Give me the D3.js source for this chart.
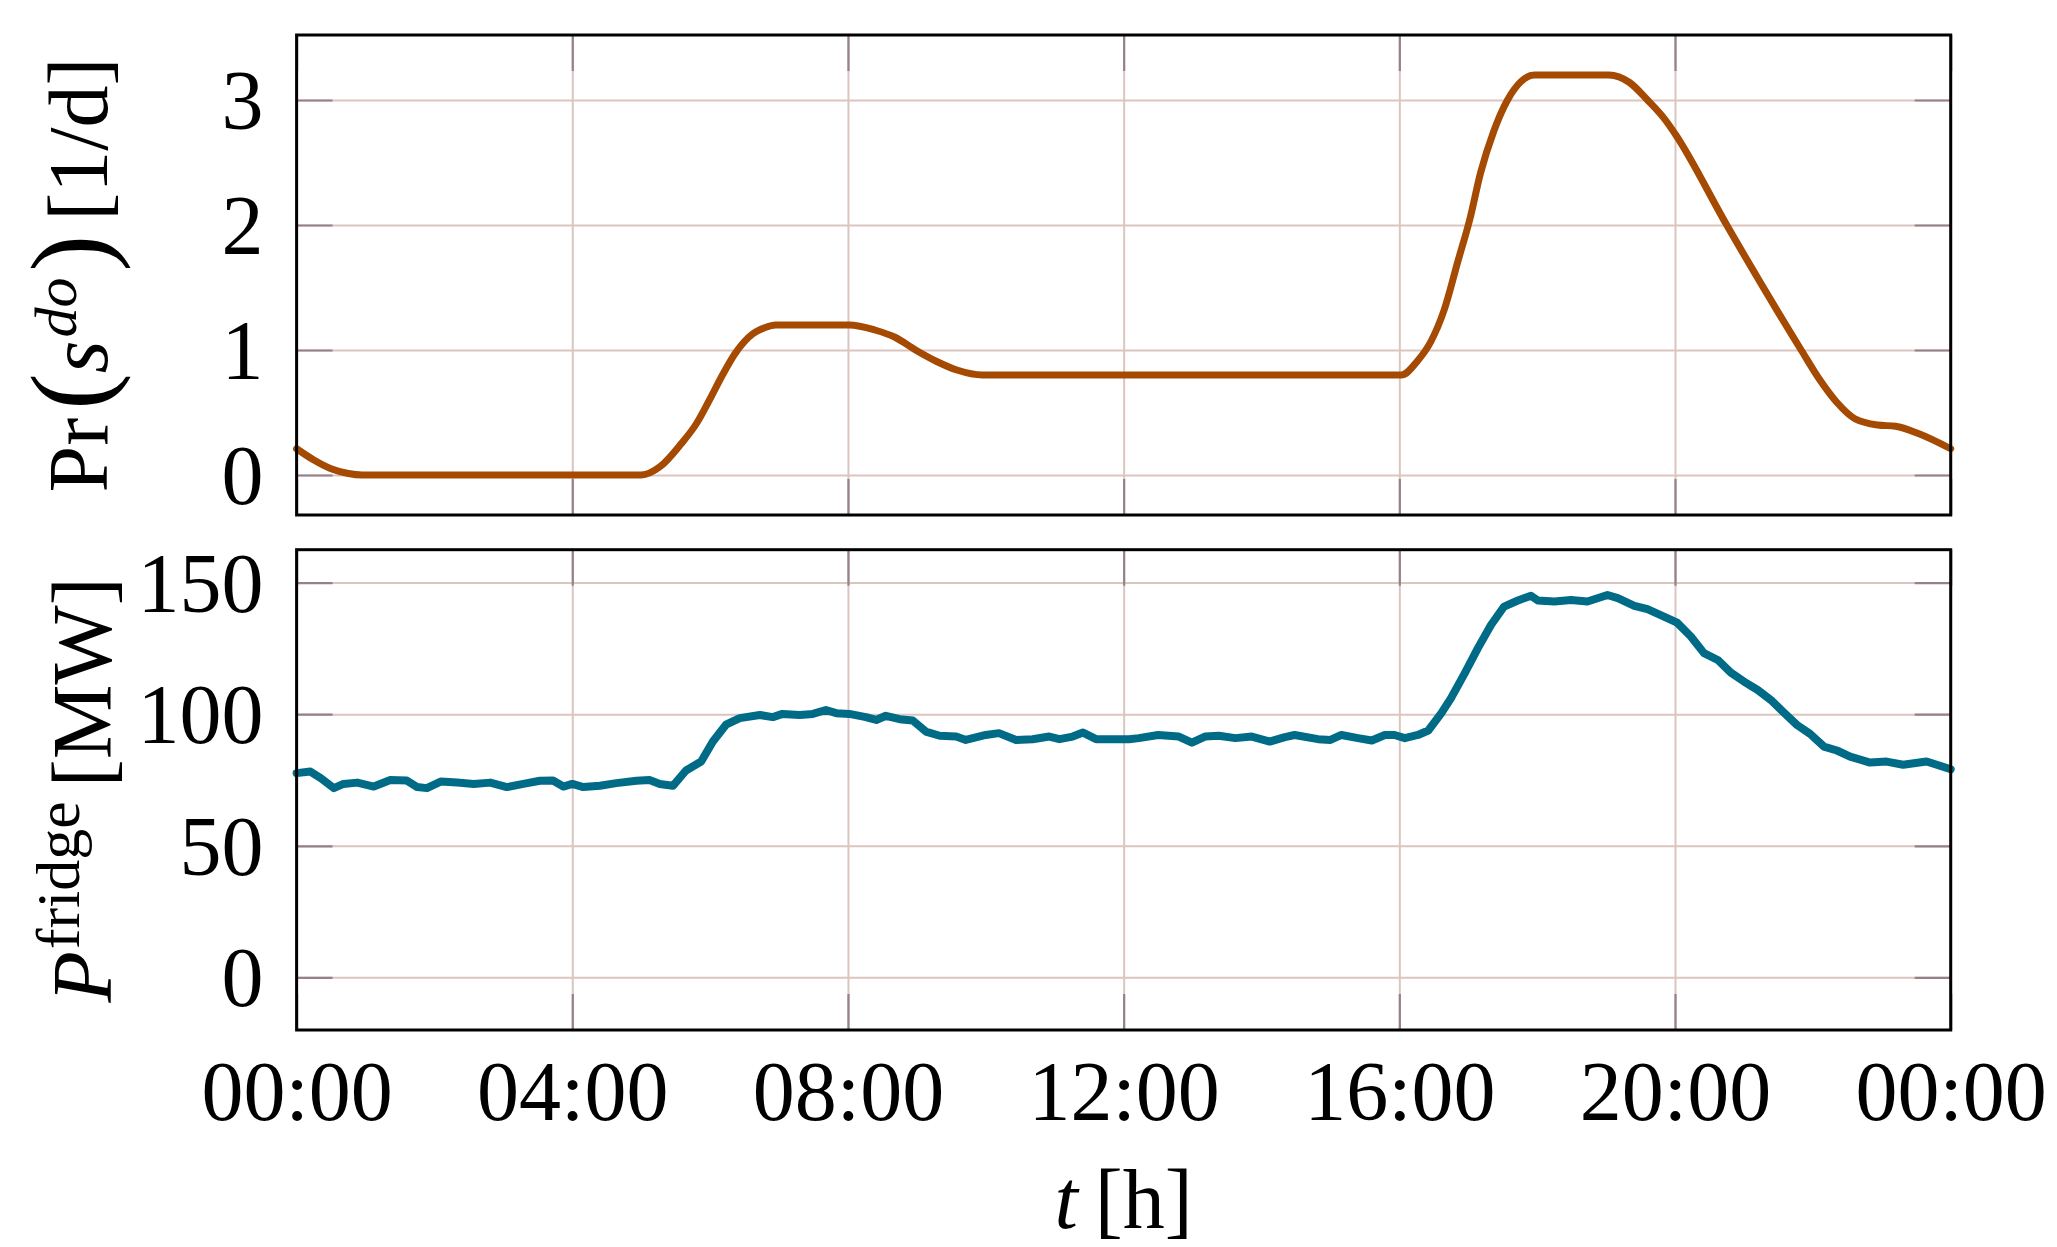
<!DOCTYPE html>
<html>
<head>
<meta charset="utf-8">
<script src="https://cdn.jsdelivr.net/npm/d3@7"></script>
<style>
  html, body { margin: 0; padding: 0; background: #ffffff; }
  svg { display: block; }
  text { font-family: "Liberation Serif", "DejaVu Serif", serif; fill: #000; }
</style>
</head>
<body>
<script>
// ---------------- data ----------------
const xTickValues = [0, 4, 8, 12, 16, 20, 24];
const xTickLabels = ["00:00", "04:00", "08:00", "12:00", "16:00", "20:00", "00:00"];
const topYTicks = [0, 1, 2, 3];
const bottomYTicks = [0, 50, 100, 150];

// Pr(s^do) [1/d] — hour of day, value
const probHours = [0, 0.25, 0.5, 0.75, 0.95, 5.0, 5.28, 5.58, 5.8, 5.99, 6.17, 6.36, 6.62, 6.8, 6.95,
  8.02, 8.39, 8.69, 8.98, 9.28, 9.58, 9.95, 16.03, 16.26, 16.46, 16.65, 16.85, 17.02, 17.18,
  17.37, 17.57, 17.77, 17.96, 19.04, 19.34, 19.6, 19.86, 20.0, 20.75, 21.83, 22.09, 22.35,
  22.61, 22.94, 23.2, 23.54, 24];
const probValues = [0.21, 0.12, 0.05, 0.012, 0, 0, 0.07, 0.25, 0.41, 0.6, 0.79, 0.97, 1.13, 1.18, 1.2,
  1.2, 1.16, 1.1, 1.0, 0.91, 0.84, 0.8, 0.8, 0.91, 1.07, 1.32, 1.71, 2.04, 2.42,
  2.75, 3.0, 3.15, 3.2, 3.2, 3.14, 3.0, 2.84, 2.73, 2.0, 1.0, 0.77, 0.58,
  0.45, 0.40, 0.39, 0.33, 0.21];

// P^fridge [MW]
const powerHours = [0, 0.2, 0.35, 0.54, 0.68, 0.88, 1.12, 1.36, 1.6, 1.75, 1.89, 2.09, 2.33, 2.57, 2.81,
  3.05, 3.29, 3.53, 3.72, 3.87, 4.0, 4.16, 4.4, 4.64, 4.93, 5.12, 5.27, 5.46, 5.65, 5.87,
  6.04, 6.23, 6.43, 6.72, 6.91, 7.05, 7.3, 7.49, 7.68, 7.83, 8.02, 8.26, 8.41, 8.55, 8.75,
  8.94, 9.13, 9.33, 9.57, 9.71, 10.0, 10.19, 10.44, 10.68, 10.92, 11.07, 11.26, 11.41, 11.6,
  11.84, 12.08, 12.22, 12.5, 12.8, 12.99, 13.18, 13.38, 13.62, 13.86, 14.12, 14.34, 14.48,
  14.82, 15.0, 15.16, 15.4, 15.6, 15.79, 15.93, 16.08, 16.27, 16.42, 16.61, 16.75, 16.95,
  17.14, 17.33, 17.52, 17.72, 17.91, 18.01, 18.25, 18.49, 18.73, 19.02, 19.17, 19.41, 19.6,
  19.84, 20.03, 20.23, 20.42, 20.62, 20.81, 21.0, 21.2, 21.39, 21.58, 21.77, 21.96, 22.16,
  22.35, 22.54, 22.83, 23.07, 23.31, 23.65, 24];
const powerValues = [77.6, 78.2, 75.7, 71.9, 73.5, 74.0, 72.5, 75.0, 74.8, 72.3, 71.9, 74.4, 74.0, 73.5, 74.0,
  72.3, 73.5, 74.7, 74.8, 72.5, 73.5, 72.3, 72.8, 73.8, 74.7, 75.0, 73.5, 72.8, 78.6, 82.0,
  89.6, 96.0, 98.5, 99.7, 98.9, 100.1, 99.7, 100.1, 101.6, 100.4, 100.1, 98.9, 97.8, 99.4, 98.1,
  97.6, 93.4, 91.8, 91.5, 90.2, 92.1, 92.8, 90.2, 90.5, 91.5, 90.5, 91.5, 93.0, 90.5,
  90.5, 90.5, 90.9, 92.1, 91.5, 89.2, 91.5, 91.8, 90.9, 91.5, 89.6, 91.3, 92.1,
  90.5, 90.2, 92.1, 90.9, 90.0, 92.1, 92.1, 90.9, 92.1, 93.8, 100.4, 106.1, 115.6,
  125.1, 133.9, 140.9, 143.2, 145.0, 143.2, 142.8, 143.4, 142.8, 145.3, 144.1, 141.2, 139.9,
  137.1, 134.8, 129.5, 123.2, 120.6, 115.8, 112.4, 109.2, 105.4, 100.6, 95.9, 92.5, 87.7,
  86.2, 83.9, 81.6, 82.0, 80.8, 82.0, 79.1];

// ---------------- drawing ----------------
const W = 2057, H = 1247;
const svg = d3.select("body").append("svg").attr("width", W).attr("height", H);

const left = 296.6, right = 1950.7;
const topPanel = { top: 35, bottom: 515 };
const botPanel = { top: 549.7, bottom: 1030 };

const x = d3.scaleLinear().domain([0, 24]).range([left, right]);
const yTop = d3.scaleLinear().domain([-0.32, 3.52]).range([topPanel.bottom, topPanel.top]);
const yBot = d3.scaleLinear().domain([-20, 162.5]).range([botPanel.bottom, botPanel.top]);

const GRID = "#dcc5c0";
const TICK = "#95808c";
const FS = 84;
const TL = 36;

function panel(y, p, yTicks, hours, values, color, lw, curve) {
  const g = svg.append("g");
  const h = p.bottom - p.top, w = right - left;
  // grid
  g.append("g").attr("transform", `translate(0,${p.bottom})`)
    .call(d3.axisBottom(x).tickValues(xTickValues).tickSize(-h).tickFormat(""))
    .call(s => { s.select(".domain").remove(); s.selectAll("line").attr("stroke", GRID).attr("stroke-width", 2); });
  g.append("g").attr("transform", `translate(${left},0)`)
    .call(d3.axisLeft(y).tickValues(yTicks).tickSize(-w).tickFormat(""))
    .call(s => { s.select(".domain").remove(); s.selectAll("line").attr("stroke", GRID).attr("stroke-width", 2); });
  // inner tick marks on all four sides
  const tickStyle = s => { s.select(".domain").remove(); s.selectAll("line").attr("stroke", TICK).attr("stroke-width", 2.2); };
  g.append("g").attr("transform", `translate(0,${p.bottom})`)
    .call(d3.axisBottom(x).tickValues(xTickValues).tickSize(-TL).tickFormat("")).call(tickStyle);
  g.append("g").attr("transform", `translate(0,${p.top})`)
    .call(d3.axisTop(x).tickValues(xTickValues).tickSize(-TL).tickFormat("")).call(tickStyle);
  g.append("g").attr("transform", `translate(${left},0)`)
    .call(d3.axisLeft(y).tickValues(yTicks).tickSize(-TL).tickFormat("")).call(tickStyle);
  g.append("g").attr("transform", `translate(${right},0)`)
    .call(d3.axisRight(y).tickValues(yTicks).tickSize(-TL).tickFormat("")).call(tickStyle);
  // y tick labels
  g.append("g").attr("transform", `translate(${left},0)`)
    .call(d3.axisLeft(y).tickValues(yTicks).tickSize(0).tickPadding(33).tickFormat(d3.format("d")))
    .call(s => {
      s.select(".domain").remove();
      s.selectAll("text").attr("font-size", FS).attr("font-family", "Liberation Serif").attr("dy", "0.34em");
    });
  // data line
  const pts = hours.map((t, i) => [t, values[i]]);
  g.append("path").datum(pts)
    .attr("fill", "none").attr("stroke", color).attr("stroke-width", lw)
    .attr("stroke-linejoin", "round").attr("stroke-linecap", "round")
    .attr("d", d3.line().x(d => x(d[0])).y(d => y(d[1])).curve(curve));
  // frame
  g.append("rect").attr("x", left).attr("y", p.top).attr("width", w).attr("height", h)
    .attr("fill", "none").attr("stroke", "#000").attr("stroke-width", 3);
  return g;
}

panel(yTop, topPanel, topYTicks, probHours, probValues, "#a54a02", 7, d3.curveMonotoneX);
panel(yBot, botPanel, bottomYTicks, powerHours, powerValues, "#006b86", 8, d3.curveLinear);

// x tick labels (bottom panel)
svg.append("g").attr("transform", `translate(0,${botPanel.bottom})`)
  .call(d3.axisBottom(x).tickValues(xTickValues).tickSize(0).tickFormat((d, i) => xTickLabels[i]))
  .call(s => {
    s.select(".domain").remove();
    s.selectAll("text").attr("font-size", FS).attr("font-family", "Liberation Serif")
      .attr("dy", null).attr("y", 90);
  });

// x axis label
const xl = svg.append("text").attr("x", (left + right) / 2).attr("y", 1228)
  .attr("text-anchor", "middle").attr("font-size", FS);
xl.append("tspan").attr("font-style", "italic").text("t");
xl.append("tspan").text("\u2009[h]");

// top y label: Pr(s^do) [1/d]
const yl1 = svg.append("text")
  .attr("transform", `translate(107,${(topPanel.top + topPanel.bottom) / 2}) rotate(-90)`)
  .attr("text-anchor", "middle").attr("font-size", FS);
yl1.append("tspan").text("Pr");
yl1.append("tspan").attr("font-size", 110).attr("dx", 8).text("(");
yl1.append("tspan").attr("font-style", "italic").text("s");
yl1.append("tspan").attr("font-style", "italic").attr("font-size", 60).attr("dy", -31).attr("dx", 3).text("do");
yl1.append("tspan").attr("font-size", 110).attr("dy", 31).attr("dx", 6).text(")");
yl1.append("tspan").attr("dx", 14).text("[1/d]");

// bottom y label: P^fridge [MW]
const yl2 = svg.append("text")
  .attr("transform", `translate(111,${(botPanel.top + botPanel.bottom) / 2}) rotate(-90)`)
  .attr("text-anchor", "middle").attr("font-size", FS);
yl2.append("tspan").attr("font-style", "italic").text("P");
yl2.append("tspan").attr("font-size", 62).attr("dy", -32).attr("dx", 2).text("fridge");
yl2.append("tspan").attr("dy", 32).attr("dx", 14).text("[MW]");
</script>
</body>
</html>
